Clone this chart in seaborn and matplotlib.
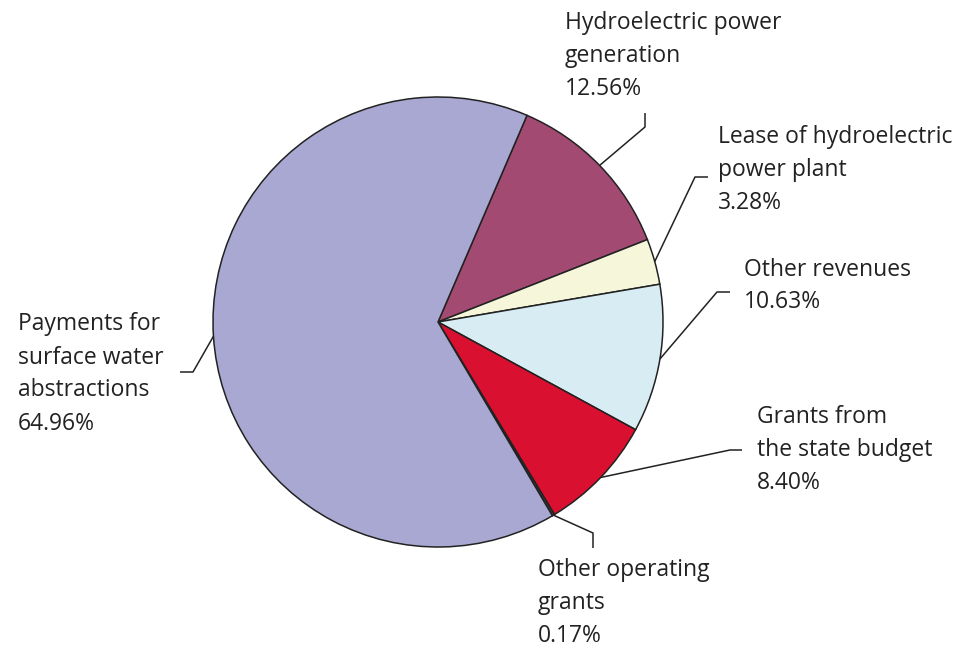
import matplotlib.pyplot as plt
import seaborn as sns
import numpy as np

# Données (parts des recettes, %)
categories = ["Hydroelectric power\ngeneration", "Lease of hydroelectric\npower plant",
              "Other revenues", "Grants from\nthe state budget",
              "Other operating\ngrants", "Payments for\nsurface water\nabstractions"]
shares = [12.56, 3.28, 10.63, 8.40, 0.17, 64.96]
colors = ["#A34A73", "#F6F6DA", "#D8ECF3", "#DA1030", "#3A3A3A", "#A9A8D3"]

# Mise en page (pixels, y vers le bas)
W, H = 974, 649
center = (438, 322)
radius = 225
label_pos = [(565, 56), (718, 170), (744, 286), (757, 450), (538, 603), (18, 374)]
elbows = [((645, 127), (645, 113)), ((695, 177), (708, 177)), ((717, 292), (730, 292)),
          ((730, 450), (742, 450)), ((593, 533), (593, 548)), ((193, 372), (180, 372))]

sns.set_theme(style="white")
plt.rcParams['font.family'] = ['Open Sans', 'DejaVu Sans']

def py(y):
    return H - y

fig = plt.figure(figsize=(W / 100, H / 100), dpi=100)
ax = fig.add_axes([0, 0, 1, 1])

wedges, _ = ax.pie(shares, colors=colors, startangle=66.7, counterclock=False,
                   center=(center[0], py(center[1])), radius=radius,
                   wedgeprops=dict(edgecolor="#222222", linewidth=1.1))

# pie() impose ses propres limites : on les remet après
ax.set_xlim(0, W)
ax.set_ylim(0, H)
ax.set_aspect('equal')
ax.axis('off')

for w, lab, pct, (tx, ty), (e1, e2) in zip(wedges, categories, shares, label_pos, elbows):
    mid = np.deg2rad((w.theta1 + w.theta2) / 2)
    ax0 = center[0] + radius * np.cos(mid)
    ay0 = py(center[1]) + radius * np.sin(mid)
    ax.plot([ax0, e1[0], e2[0]], [ay0, py(e1[1]), py(e2[1])], color="#222222", lw=1.1,
            solid_capstyle='butt')
    ax.text(tx, py(ty), f"{lab}\n{pct:.2f}%", ha='left', va='center', fontsize=16.5,
            color="#222222", linespacing=1.5)

fig.savefig("out.png", dpi=100)
